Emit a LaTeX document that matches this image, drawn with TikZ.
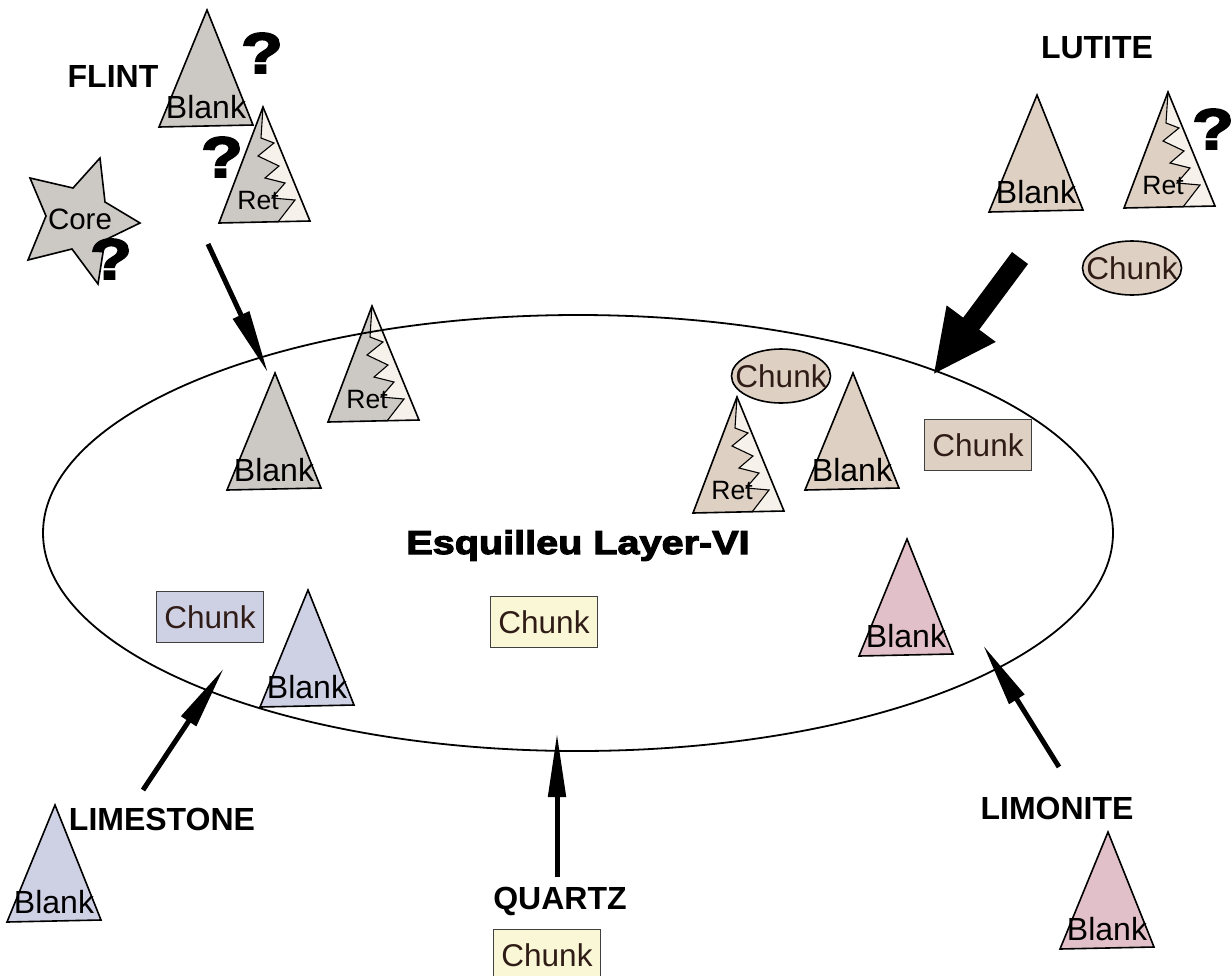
\documentclass[tikz,border=0pt]{standalone}
\usepackage{fontspec}
\setmainfont{Liberation Sans}
\newfontfamily\heavyfont[FakeBold=3.5,FakeStretch=1.2]{Liberation Sans Bold}
\usetikzlibrary{arrows.meta,shapes.geometric}

\definecolor{flintc}{RGB}{204,200,196}
\definecolor{lutitec}{RGB}{222,208,194}
\definecolor{limestonec}{RGB}{206,208,228}
\definecolor{limonitec}{RGB}{226,192,201}
\definecolor{quartzc}{RGB}{250,247,214}
\definecolor{retlight}{RGB}{246,241,234}
\definecolor{chunkink}{RGB}{48,28,22}

\tikzset{
  outline/.style={draw=black, line width=1.6pt, line join=miter},
  blanktxt/.style={font=\fontsize{32}{32}\selectfont, inner sep=0pt, text depth=0pt},
  rettxt/.style={font=\fontsize{26.5}{26.5}\selectfont, inner sep=0pt, text depth=0pt},
  chunktxt/.style={font=\fontsize{31.5}{31.5}\selectfont, text=chunkink, inner sep=0pt, text depth=0pt},
  chunkbox/.style={draw=black!75, line width=1.2pt, minimum width=107pt, minimum height=51pt,
    chunktxt},
  chunkoval/.style={draw=black, line width=1.6pt, ellipse, minimum width=99pt, minimum height=54pt,
    inner sep=0pt},
  group/.style={font=\fontsize{32}{32}\selectfont\bfseries, inner sep=0pt, text depth=0pt},
  query/.style={font=\fontsize{57}{57}\heavyfont, inner sep=0pt, text depth=0pt},
  thinarrow/.style={line width=5pt, -{Triangle[length=64pt,width=17pt]}},
  bigarrow/.style={line width=20pt, -{Triangle[length=64pt,width=56pt]}},
  % plain flake (blank)
  blank/.pic={
    \path[outline, fill=#1] (0,0) coordinate (-apex) -- (-48,117) -- (46,115) -- cycle;
    \node[blanktxt] (-txt) at (-1,97) {Blank};
  },
  % retouched flake: lighter zigzag edge on the right side
  ret/.pic={
    \path[fill=#1] (0,0) coordinate (-apex) -- (-44,116) -- (47,114) -- cycle;
    \fill[retlight] (0,0) -- (-2,31) -- (11,36) -- (-5,49) -- (16,59) -- (2,71) -- (22,76)
      -- (9,91) -- (32,93) -- (15,115) -- (47,114) -- cycle;
    \draw[line width=1.1pt, line join=miter] (0,0) -- (-2,31) -- (11,36) -- (-5,49) -- (16,59)
      -- (2,71) -- (22,76) -- (9,91) -- (32,93) -- (15,115);
    \draw[outline] (0,0) -- (-44,116) -- (47,114) -- cycle;
    \node[rettxt] (-txt) at (-5,93) {Ret};
  },
}

\begin{document}
\begin{tikzpicture}[x=1pt, y=-1pt]
\useasboundingbox (0,0) rectangle (1232,975);

% ---- flint ----
\node[group] (flint) at (113,76) {FLINT};
\pic (fb1) at (207,10) {blank=flintc};
\pic (fr1) at (263,107) {ret=flintc};
\path[outline, fill=flintc] (100,158) -- (105,202) -- (140,223) -- (105,240) -- (98,284)
  -- (72,249) -- (28,260) -- (46,216) -- (30,178) -- (73,188) -- cycle;
\node[font=\fontsize{29.5}{29.5}\selectfont, inner sep=0pt, text depth=0pt] (core) at (80,219) {Core};
\node[query] (q1) at (262,53) {?};
\node[query] (q2) at (222,157) {?};
\node[query] (q3) at (111,259) {?};

% ---- lutite ----
\node[group] (lutite) at (1097,47) {LUTITE};
\pic (lb1) at (1037,95) {blank=lutitec};
\pic (lr1) at (1168,92) {ret=lutitec};
\node[query] (q4) at (1213,129) {?};
\node[chunkoval, fill=lutitec] (lc1) at (1132,268) {};
\node[chunktxt] (lc1t) at (lc1.center) {Chunk};

% ---- items found in the layer ----
\pic (fb2) at (275,373) {blank=flintc};
\pic (fr2) at (372,306) {ret=flintc};
\node[chunkoval, fill=lutitec] (lc2) at (781,376) {};
\node[chunktxt] (lc2t) at (lc2.center) {Chunk};
\pic (lr2) at (737,397) {ret=lutitec};
\pic (lb2) at (853,373) {blank=lutitec};
\node[chunkbox, fill=lutitec] (lc3) at (978,445) {Chunk};
\node[chunkbox, fill=limestonec] (sc2) at (210,617) {Chunk};
\pic (sb2) at (308,590) {blank=limestonec};
\node[chunkbox, fill=quartzc] (qc2) at (544,622) {Chunk};
\pic (mb2) at (907,539) {blank=limonitec};

% ---- the layer ----
\node[draw, ellipse, line width=1.8pt, minimum width=1070pt, minimum height=436pt, inner sep=0pt]
  (layer) at (578,533) {};
\node[font=\fontsize{33}{33}\heavyfont, inner sep=0pt, anchor=base] (title) at (578,554)
  {Esquilleu Layer-VI};

% ---- sources below ----
\node[group] (limestone) at (162,819) {LIMESTONE};
\pic (sb1) at (55,805) {blank=limestonec};
\node[group] (quartz) at (560,898) {QUARTZ};
\node[chunkbox, fill=quartzc] (qc1) at (547,955) {Chunk};
\node[group] (limonite) at (1057,808) {LIMONITE};
\pic (mb1) at (1108,832) {blank=limonitec};

% ---- arrows ----
\coordinate (flintTail) at (208,244);
\coordinate (flintTip) at (268,373);
\coordinate (lutiteTail) at (1020,258);
\coordinate (lutiteTip) at (933,375);
\coordinate (limestoneTail) at (143,790);
\coordinate (limestoneTip) at (224,668);
\coordinate (quartzTail) at (557,877);
\coordinate (quartzTip) at (557,733);
\coordinate (limoniteTail) at (1059,767);
\coordinate (limoniteTip) at (983,645);

\draw[thinarrow] (flintTail) -- (flintTip);
\draw[bigarrow] (lutiteTail) -- (lutiteTip);
\draw[thinarrow] (limestoneTail) -- (limestoneTip);
\draw[thinarrow] (quartzTail) -- (quartzTip);
\draw[thinarrow] (limoniteTail) -- (limoniteTip);
\end{tikzpicture}
\end{document}
